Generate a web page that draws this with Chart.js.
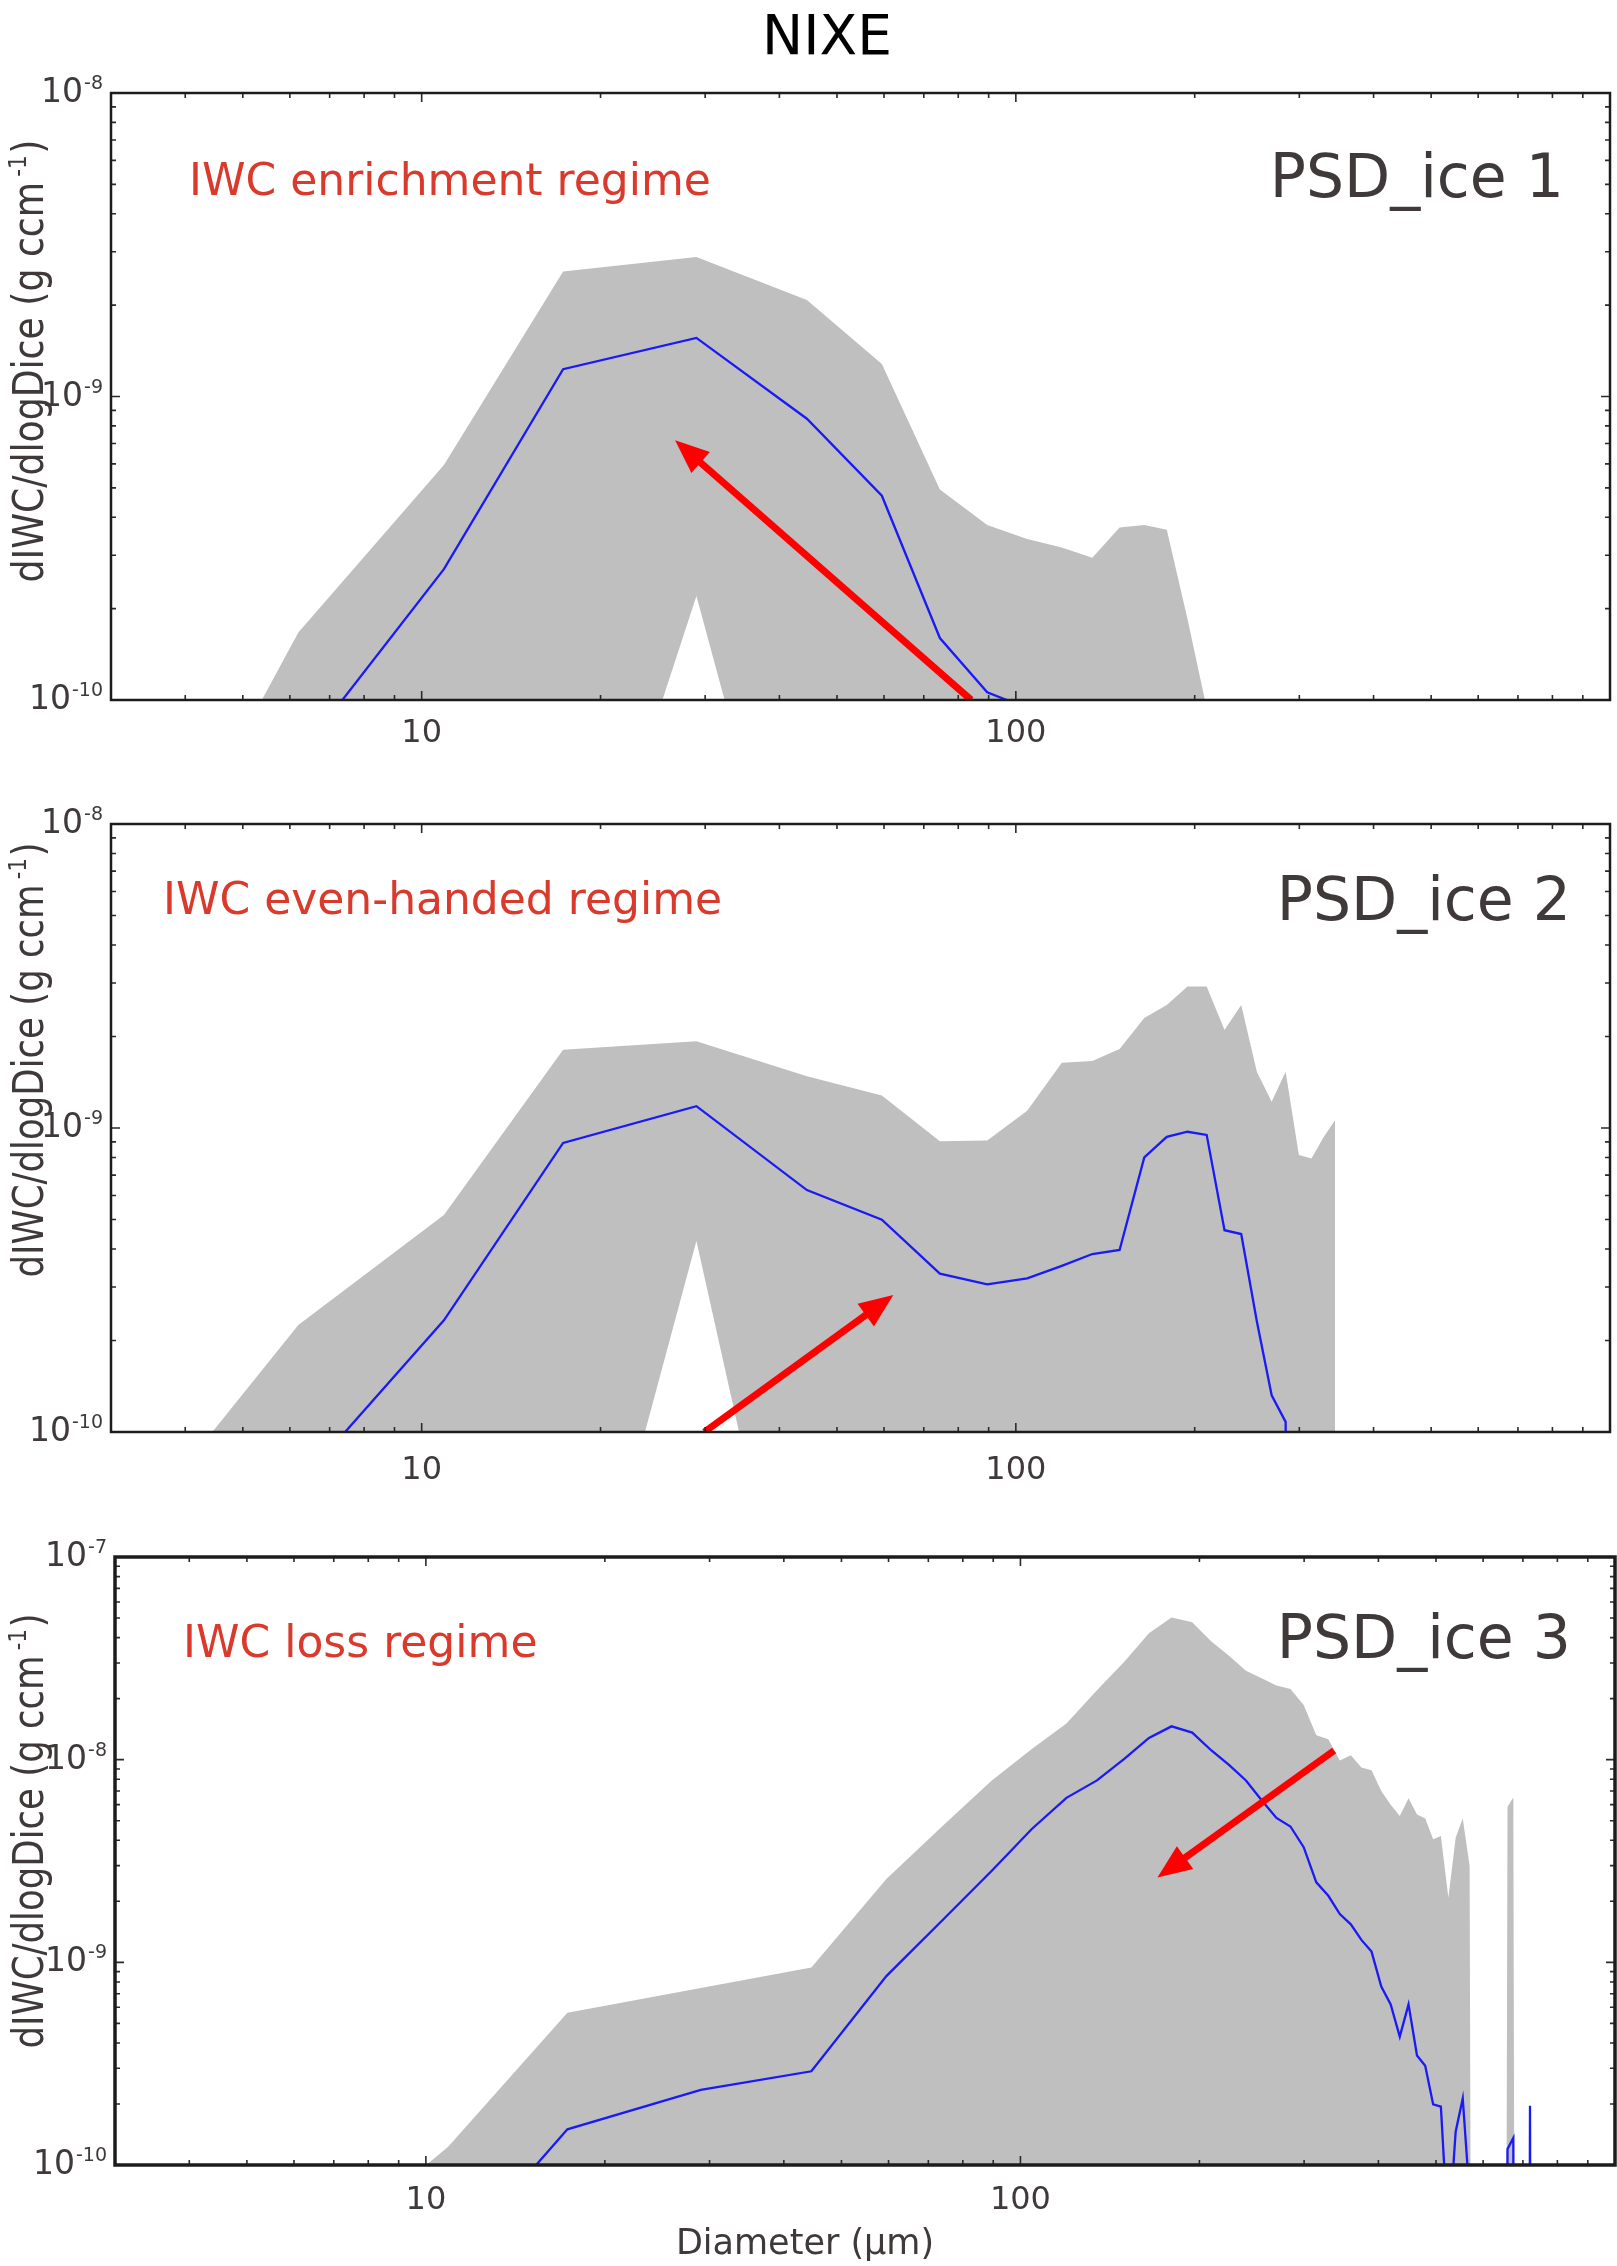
<!DOCTYPE html>
<html>
<head>
<meta charset="utf-8">
<script src="https://cdn.jsdelivr.net/npm/chart.js@4.4.1/dist/chart.umd.min.js"></script>
<style>
html, body { margin: 0; padding: 0; background: #ffffff; }
#page { position: relative; width: 1617px; height: 2266px; overflow: hidden; background: #ffffff; }
canvas { position: absolute; left: 0; }
</style>
</head>
<body>
<div id="page">
  <canvas id="c1" width="1617" height="760" style="top:0px"></canvas>
  <canvas id="c2" width="1617" height="740" style="top:760px"></canvas>
  <canvas id="c3" width="1617" height="766" style="top:1500px"></canvas>
</div>
<script>
// ---------------- DATA ----------------
const ZERO = 1e-20; // "no ice" value: zero on a log axis (falls off the plot)

const X_MIN = 3, X_MAX = 1000;
const X_TICK_LABELS = [10, 100];

// Panel 1: PSD_ice 1
const D1 = [3.5, 6.2, 10.9, 17.3, 29, 44.5, 59.5, 74.5, 89.5, 104.5, 119.5, 134.5, 149.5, 164.5, 179.5, 194.5, 209.5, 224.5];
const MEDIAN1 = [ZERO, 6.5e-11, 2.7e-10, 1.23e-9, 1.56e-9, 8.45e-10, 4.71e-10, 1.6e-10, 1.06e-10, 9.4e-11, ZERO, ZERO, ZERO, ZERO, ZERO, ZERO, ZERO, ZERO];
const MAX1 = [2.1e-11, 1.67e-10, 5.95e-10, 2.58e-9, 2.88e-9, 2.08e-9, 1.28e-9, 4.94e-10, 3.77e-10, 3.39e-10, 3.18e-10, 2.94e-10, 3.7e-10, 3.77e-10, 3.64e-10, 1.85e-10, 9.4e-11, ZERO];
const MIN1 = [ZERO, ZERO, ZERO, 1e-11, 2.2e-10, 1e-11, ZERO, ZERO, ZERO, ZERO, ZERO, ZERO, ZERO, ZERO, ZERO, ZERO, ZERO, ZERO];
const Y_EXP1 = [-10, -9, -8];
const ARROW1_D = [84.1, 26.7];
const ARROW1_V = [1.0e-10, 7.18e-10];

// Panel 2: PSD_ice 2
const D2 = [3.5, 6.2, 10.9, 17.3, 29, 44.5, 59.5, 74.5, 89.5, 104.5, 119.5, 134.5, 149.5, 164.5, 179.5, 194.5, 209.5, 224.5, 239.5, 254.5, 269.5, 284.5, 299.5, 314.5, 329.5, 344.5];
const MEDIAN2 = [ZERO, 6.7e-11, 2.33e-10, 8.93e-10, 1.18e-9, 6.25e-10, 4.99e-10, 3.32e-10, 3.06e-10, 3.2e-10, 3.52e-10, 3.85e-10, 3.97e-10, 8.0e-10, 9.35e-10, 9.72e-10, 9.49e-10, 4.61e-10, 4.48e-10, 2.31e-10, 1.32e-10, 1.08e-10, ZERO, ZERO, ZERO, ZERO];
const MAX2 = [5.6e-11, 2.25e-10, 5.17e-10, 1.81e-9, 1.93e-9, 1.48e-9, 1.28e-9, 9.04e-10, 9.1e-10, 1.14e-9, 1.64e-9, 1.66e-9, 1.82e-9, 2.30e-9, 2.54e-9, 2.92e-9, 2.92e-9, 2.10e-9, 2.54e-9, 1.53e-9, 1.22e-9, 1.53e-9, 8.15e-10, 7.94e-10, 9.33e-10, 1.06e-9];
const MIN2 = [ZERO, ZERO, ZERO, 1e-11, 4.25e-10, 1e-11, ZERO, ZERO, ZERO, ZERO, ZERO, ZERO, ZERO, ZERO, ZERO, ZERO, ZERO, ZERO, ZERO, ZERO, ZERO, ZERO, ZERO, ZERO, ZERO, ZERO];
const Y_EXP2 = [-10, -9, -8];
const ARROW2_D = [29.9, 62.2];
const ARROW2_V = [1.0e-10, 2.82e-10];

// Panel 3: PSD_ice 3
const D3 = [6.2, 10.9, 17.3, 29, 44.5, 59.5, 74.5, 89.5, 104.5, 119.5, 134.5, 149.5, 164.5, 179.5, 194.5, 209.5, 224.5, 239.5, 254.5, 269.5, 284.5, 299.5, 314.5, 329.5, 344.5, 359.5, 374.5, 389.5, 404.5, 419.5, 434.5, 449.5, 464.5, 479.5, 494.5, 509.5, 524.5, 539.5, 554.5, 569.5, 584.5, 599.5, 614.5, 629.5, 644.5, 659.5, 674.5, 689.5, 704.5, 719.5, 734.5];
const MEDIAN3 = [ZERO, 3.2e-11, 1.50e-10, 2.35e-10, 2.9e-10, 8.55e-10, 1.65e-9, 2.83e-9, 4.55e-9, 6.48e-9, 7.9e-9, 1.01e-8, 1.28e-8, 1.46e-8, 1.36e-8, 1.11e-8, 9.4e-9, 7.9e-9, 6.3e-9, 5.16e-9, 4.68e-9, 3.70e-9, 2.48e-9, 2.13e-9, 1.73e-9, 1.54e-9, 1.29e-9, 1.13e-9, 7.6e-10, 6.2e-10, 4.3e-10, 6.2e-10, 3.47e-10, 3.09e-10, 1.99e-10, 1.94e-10, 4.3e-11, 1.46e-10, 2.13e-10, 7e-11, ZERO, ZERO, ZERO, ZERO, ZERO, 1.2e-10, 1.36e-10, ZERO, ZERO, 1.96e-10, ZERO];
const MAX3 = [3.1e-11, 1.23e-10, 5.64e-10, 7.48e-10, 9.42e-10, 2.58e-9, 4.8e-9, 7.9e-9, 1.13e-8, 1.51e-8, 2.2e-8, 3.04e-8, 4.2e-8, 5.03e-8, 4.76e-8, 3.83e-8, 3.25e-8, 2.75e-8, 2.52e-8, 2.32e-8, 2.23e-8, 1.86e-8, 1.32e-8, 1.26e-8, 9.9e-9, 1.05e-8, 9.15e-9, 8.87e-9, 7.0e-9, 6.0e-9, 5.28e-9, 6.46e-9, 5.37e-9, 5.13e-9, 4.05e-9, 4.2e-9, 2.08e-9, 4.12e-9, 5.13e-9, 2.99e-9, ZERO, ZERO, ZERO, ZERO, ZERO, 5.85e-9, 6.5e-9, ZERO, ZERO, ZERO, ZERO];
const Y_EXP3 = [-10, -9, -8, -7];
const ARROW3_D = [337, 170];
const ARROW3_V = [1.11e-8, 2.62e-9];

// ---------------- STYLE ----------------
const FONT = '"DejaVu Sans", Verdana, sans-serif';
const BLUE = 'rgb(26,26,245)';
const GRAY = '#bfbfbf';
const RED_TEXT = '#d93a2c';
const ARROW_COLOR = '#ff0000';
const DARK_TEXT = '#3f393a';
const FRAME = '#1c1c1c';

function pts(xs, ys) { return xs.map((x, i) => ({ x: x, y: ys[i] })); }

function logTicks(lo, hi) {
  const out = [];
  for (let e = Math.floor(Math.log10(lo)); e <= Math.ceil(Math.log10(hi)); e++) {
    for (let m = 1; m <= 9; m++) {
      const v = m * Math.pow(10, e);
      if (v >= lo * 0.999 && v <= hi * 1.001) out.push({ v: v, major: m === 1 });
    }
  }
  return out;
}

function decorPlugin(P) {
  return {
    id: 'decor',
    afterDatasetsDraw(chart) {
      const ctx = chart.ctx, a = chart.chartArea;
      const xs = chart.scales.x, ys = chart.scales.y;
      ctx.save();
      ctx.beginPath();
      ctx.rect(a.left, a.top, a.right - a.left, a.bottom - a.top);
      ctx.clip();
      const x0 = xs.getPixelForValue(P.arrowD[0]), y0 = ys.getPixelForValue(P.arrowV[0]);
      const x1 = xs.getPixelForValue(P.arrowD[1]), y1 = ys.getPixelForValue(P.arrowV[1]);
      const ang = Math.atan2(y1 - y0, x1 - x0), c = Math.cos(ang), s = Math.sin(ang);
      const HL = 34, HW = 14;
      const bx = x1 - HL * c, by = y1 - HL * s;
      ctx.strokeStyle = ARROW_COLOR; ctx.fillStyle = ARROW_COLOR;
      ctx.lineWidth = 7; ctx.lineCap = 'butt';
      ctx.beginPath(); ctx.moveTo(x0, y0); ctx.lineTo(bx + 2 * c, by + 2 * s); ctx.stroke();
      ctx.beginPath(); ctx.moveTo(x1, y1);
      ctx.lineTo(bx - HW * s, by + HW * c);
      ctx.lineTo(bx + HW * s, by - HW * c);
      ctx.closePath(); ctx.fill();
      ctx.restore();
    },
    afterDraw(chart) {
      const ctx = chart.ctx, a = chart.chartArea;
      const xs = chart.scales.x, ys = chart.scales.y;
      ctx.save();
      // ticks (inward, all four sides)
      ctx.strokeStyle = '#2a2a2a'; ctx.lineWidth = 1.6;
      logTicks(X_MIN, X_MAX).forEach(t => {
        const px = xs.getPixelForValue(t.v), len = t.major ? 9 : 5;
        ctx.beginPath();
        ctx.moveTo(px, a.bottom); ctx.lineTo(px, a.bottom - len);
        ctx.moveTo(px, a.top); ctx.lineTo(px, a.top + len);
        ctx.stroke();
      });
      logTicks(P.yMin, P.yMax).forEach(t => {
        const py = ys.getPixelForValue(t.v), len = t.major ? 9 : 5;
        ctx.beginPath();
        ctx.moveTo(a.left, py); ctx.lineTo(a.left + len, py);
        ctx.moveTo(a.right, py); ctx.lineTo(a.right - len, py);
        ctx.stroke();
      });
      // frame
      ctx.strokeStyle = FRAME; ctx.lineWidth = P.frameW;
      ctx.strokeRect(a.left, a.top, a.right - a.left, a.bottom - a.top);

      // x tick labels
      ctx.fillStyle = DARK_TEXT;
      ctx.font = '32px ' + FONT; ctx.textAlign = 'center'; ctx.textBaseline = 'alphabetic';
      X_TICK_LABELS.forEach(v => {
        ctx.fillText(String(v), xs.getPixelForValue(v), a.bottom + P.xLabDy + 11.6);
      });
      // y tick labels 10^e
      P.yExp.forEach(e => {
        const py = ys.getPixelForValue(Math.pow(10, e));
        const sup = '-' + Math.abs(e);
        ctx.font = '19px ' + FONT; ctx.textAlign = 'right';
        const supRight = a.left - 8;
        const sw = ctx.measureText(sup).width;
        ctx.fillText(sup, supRight, py - 4);
        ctx.font = '33px ' + FONT;
        ctx.fillText('10', supRight - sw - 1, py + 9);
      });
      // y axis title (tall glyphs, slightly compressed along the reading direction as in the original)
      ctx.save();
      ctx.translate(P.ylabX, P.ylabY);
      ctx.rotate(-Math.PI / 2);
      ctx.textAlign = 'left'; ctx.textBaseline = 'alphabetic';
      const main = 'dIWC/dlogDice (g ccm', supT = '-1', tail = ')';
      ctx.font = '42px ' + FONT; const w1 = ctx.measureText(main).width, w3 = ctx.measureText(tail).width;
      ctx.font = '25px ' + FONT; const w2 = ctx.measureText(supT).width;
      const total = w1 + 6 + w2 + 2 + w3;
      const k = P.ylabLen / total;
      ctx.scale(k, 1);
      let cx = -total / 2;
      ctx.font = '42px ' + FONT; ctx.fillText(main, cx, 0); cx += w1 + 6;
      ctx.font = '25px ' + FONT; ctx.fillText(supT, cx, -17); cx += w2 + 2;
      ctx.font = '42px ' + FONT; ctx.fillText(tail, cx, 0);
      ctx.restore();

      // regime text (red) and panel name
      ctx.textBaseline = 'alphabetic';
      ctx.font = '44px ' + FONT; ctx.fillStyle = RED_TEXT; ctx.textAlign = 'left';
      ctx.fillText(P.regime, a.left + P.regDx, a.top + P.regDy);
      ctx.font = '60px ' + FONT; ctx.fillStyle = DARK_TEXT; ctx.textAlign = 'right';
      ctx.fillText(P.name, a.right + P.nameDx, a.top + P.nameDy);

      if (P.title) {
        ctx.font = '55px ' + FONT; ctx.fillStyle = '#000000'; ctx.textAlign = 'center';
        ctx.fillText(P.title, 827, 54);
      }
      if (P.xTitle) {
        ctx.font = '35px ' + FONT; ctx.fillStyle = DARK_TEXT; ctx.textAlign = 'center';
        ctx.fillText(P.xTitle, 805, a.bottom + 89);
      }
      ctx.restore();
    }
  };
}

function makeChart(id, P) {
  const datasets = [
    { label: 'median', data: pts(P.x, P.median), borderColor: BLUE, borderWidth: 2.3,
      pointRadius: 0, fill: false, tension: 0, order: 0 },
    { label: 'range', data: pts(P.x, P.max), borderColor: 'rgba(0,0,0,0)', borderWidth: 0,
      backgroundColor: GRAY, pointRadius: 0, fill: P.min ? '+1' : 'start', tension: 0, order: 1 }
  ];
  if (P.min) {
    datasets.push({ label: 'rangeLow', data: pts(P.x, P.min), borderColor: 'rgba(0,0,0,0)', borderWidth: 0,
      pointRadius: 0, fill: false, tension: 0, order: 2 });
  }
  return new Chart(document.getElementById(id), {
    type: 'line',
    data: { datasets: datasets },
    options: {
      responsive: false, animation: false, devicePixelRatio: 1, events: [],
      layout: { padding: P.pad },
      plugins: { legend: { display: false }, tooltip: { enabled: false } },
      scales: {
        x: { type: 'logarithmic', min: X_MIN, max: X_MAX, display: false, bounds: 'data' },
        y: { type: 'logarithmic', min: P.yMin, max: P.yMax, display: false, bounds: 'data' }
      }
    },
    plugins: [decorPlugin(P)]
  });
}

makeChart('c1', {
  x: D1, median: MEDIAN1, max: MAX1, min: MIN1, yMin: 1e-10, yMax: 1e-8, yExp: Y_EXP1,
  arrowD: ARROW1_D, arrowV: ARROW1_V,
  pad: { left: 111, right: 7, top: 93, bottom: 60 }, frameW: 2.5, xLabDy: 30,
  ylabX: 43, ylabY: 361, ylabLen: 443,
  regime: 'IWC enrichment regime', regDx: 78, regDy: 102,
  name: 'PSD_ice 1', nameDx: -46, nameDy: 104,
  title: 'NIXE'
});
makeChart('c2', {
  x: D2, median: MEDIAN2, max: MAX2, min: MIN2, yMin: 1e-10, yMax: 1e-8, yExp: Y_EXP2,
  arrowD: ARROW2_D, arrowV: ARROW2_V,
  pad: { left: 111, right: 7, top: 64, bottom: 68 }, frameW: 2.5, xLabDy: 35,
  ylabX: 43, ylabY: 300, ylabLen: 435,
  regime: 'IWC even-handed regime', regDx: 52, regDy: 90,
  name: 'PSD_ice 2', nameDx: -39, nameDy: 96
});
makeChart('c3', {
  x: D3, median: MEDIAN3, max: MAX3, min: null, yMin: 1e-10, yMax: 1e-7, yExp: Y_EXP3,
  arrowD: ARROW3_D, arrowV: ARROW3_V,
  pad: { left: 115, right: 2, top: 57, bottom: 101 }, frameW: 3.5, xLabDy: 32,
  ylabX: 43, ylabY: 331, ylabLen: 435,
  regime: 'IWC loss regime', regDx: 68, regDy: 100,
  name: 'PSD_ice 3', nameDx: -44, nameDy: 101,
  xTitle: 'Diameter (\u00b5m)'
});
</script>
</body>
</html>
